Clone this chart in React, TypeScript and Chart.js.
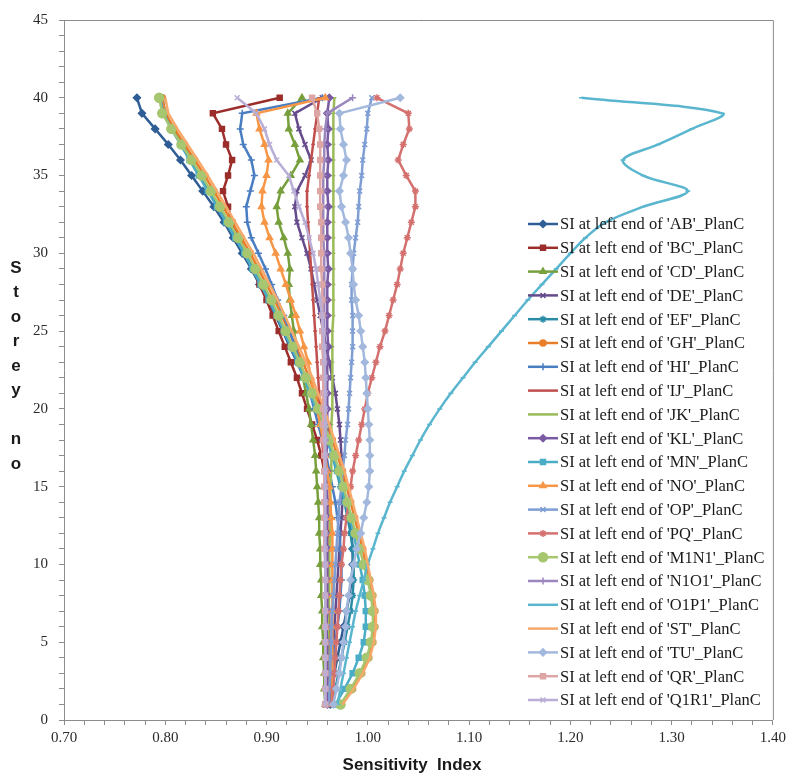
import React, { useEffect, useRef } from 'react';
import { Chart, registerables } from 'chart.js';
import { drawPoint } from 'chart.js/helpers';

Chart.register(...registerables);

// Storey numbers (top to bottom) matching the order of every series array below
const storeys = [40, 39, 38, 37, 36, 35, 34, 33, 32, 31, 30, 29, 28, 27, 26, 25, 24, 23, 22, 21, 20, 19, 18, 17, 16, 15, 14, 13, 12, 11, 10, 9, 8, 7, 6, 5, 4, 3, 2, 1];

const seriesNames = ['AB', 'BC', 'CD', 'DE', 'EF', 'GH', 'HI', 'IJ', 'JK', 'KL', 'MN', 'NO', 'OP', 'PQ', 'M1N1', 'N1O1', 'O1P1', 'ST', 'TU', 'QR', 'Q1R1'];

const siAB = [0.772, 0.777, 0.790, 0.803, 0.815, 0.826, 0.837, 0.848, 0.858, 0.867, 0.876, 0.885, 0.893, 0.901, 0.909, 0.916, 0.923, 0.930, 0.937, 0.943, 0.949, 0.955, 0.961, 0.966, 0.971, 0.975, 0.979, 0.982, 0.984, 0.985, 0.985, 0.984, 0.982, 0.979, 0.976, 0.973, 0.970, 0.967, 0.965, 0.963];
const siBC = [0.913, 0.847, 0.856, 0.860, 0.866, 0.862, 0.857, 0.862, 0.866, 0.873, 0.880, 0.887, 0.893, 0.900, 0.906, 0.912, 0.918, 0.924, 0.930, 0.935, 0.940, 0.945, 0.950, 0.954, 0.957, 0.959, 0.960, 0.960, 0.960, 0.960, 0.960, 0.960, 0.959, 0.959, 0.959, 0.959, 0.959, 0.959, 0.958, 0.958];
const siCD = [0.935, 0.921, 0.922, 0.928, 0.933, 0.924, 0.914, 0.910, 0.912, 0.917, 0.921, 0.923, 0.922, 0.923, 0.925, 0.927, 0.930, 0.933, 0.936, 0.939, 0.942, 0.944, 0.946, 0.948, 0.949, 0.950, 0.951, 0.952, 0.952, 0.953, 0.953, 0.954, 0.954, 0.955, 0.955, 0.956, 0.956, 0.957, 0.957, 0.958];
const siDE = [0.955, 0.928, 0.932, 0.938, 0.944, 0.938, 0.930, 0.928, 0.930, 0.935, 0.940, 0.944, 0.947, 0.950, 0.953, 0.956, 0.959, 0.962, 0.965, 0.968, 0.970, 0.972, 0.973, 0.974, 0.975, 0.975, 0.975, 0.974, 0.973, 0.972, 0.971, 0.970, 0.969, 0.968, 0.967, 0.966, 0.965, 0.964, 0.963, 0.962];
const siEF = [0.797, 0.800, 0.808, 0.817, 0.826, 0.835, 0.844, 0.853, 0.862, 0.871, 0.880, 0.888, 0.896, 0.904, 0.911, 0.918, 0.925, 0.932, 0.938, 0.944, 0.950, 0.955, 0.960, 0.965, 0.969, 0.973, 0.977, 0.980, 0.983, 0.985, 0.986, 0.986, 0.985, 0.983, 0.980, 0.977, 0.974, 0.971, 0.968, 0.965];
const siGH = [0.797, 0.800, 0.809, 0.819, 0.829, 0.839, 0.848, 0.857, 0.866, 0.875, 0.884, 0.892, 0.900, 0.908, 0.915, 0.922, 0.929, 0.936, 0.942, 0.948, 0.954, 0.960, 0.965, 0.970, 0.975, 0.979, 0.983, 0.987, 0.991, 0.995, 0.998, 1.002, 1.005, 1.007, 1.007, 1.005, 1.001, 0.994, 0.985, 0.974];
const siHI = [0.955, 0.876, 0.874, 0.877, 0.885, 0.888, 0.884, 0.880, 0.881, 0.885, 0.892, 0.899, 0.905, 0.911, 0.917, 0.923, 0.928, 0.933, 0.938, 0.943, 0.947, 0.951, 0.955, 0.959, 0.962, 0.965, 0.968, 0.970, 0.972, 0.973, 0.974, 0.974, 0.973, 0.972, 0.970, 0.968, 0.966, 0.964, 0.962, 0.961];
const siIJ = [0.952, 0.950, 0.948, 0.946, 0.944, 0.942, 0.940, 0.940, 0.941, 0.942, 0.943, 0.944, 0.945, 0.946, 0.947, 0.948, 0.949, 0.950, 0.951, 0.952, 0.953, 0.954, 0.955, 0.956, 0.957, 0.958, 0.959, 0.959, 0.960, 0.960, 0.961, 0.961, 0.961, 0.962, 0.962, 0.962, 0.962, 0.962, 0.962, 0.962];
const siJK = [0.967, 0.966, 0.966, 0.966, 0.966, 0.966, 0.966, 0.966, 0.966, 0.966, 0.966, 0.966, 0.966, 0.966, 0.966, 0.965, 0.965, 0.965, 0.965, 0.965, 0.965, 0.964, 0.964, 0.964, 0.964, 0.963, 0.963, 0.963, 0.963, 0.962, 0.962, 0.962, 0.962, 0.961, 0.961, 0.961, 0.961, 0.960, 0.960, 0.960];
const siKL = [0.962, 0.960, 0.961, 0.960, 0.961, 0.960, 0.960, 0.961, 0.960, 0.960, 0.960, 0.961, 0.960, 0.960, 0.960, 0.960, 0.961, 0.960, 0.960, 0.960, 0.960, 0.960, 0.960, 0.959, 0.960, 0.960, 0.960, 0.960, 0.959, 0.960, 0.960, 0.960, 0.960, 0.960, 0.959, 0.960, 0.960, 0.960, 0.960, 0.960];
const siMN = [0.795, 0.798, 0.806, 0.815, 0.824, 0.833, 0.842, 0.851, 0.860, 0.869, 0.878, 0.886, 0.894, 0.902, 0.910, 0.917, 0.924, 0.931, 0.937, 0.943, 0.949, 0.955, 0.960, 0.965, 0.970, 0.974, 0.978, 0.982, 0.986, 0.989, 0.992, 0.995, 0.997, 0.998, 0.998, 0.996, 0.991, 0.985, 0.977, 0.968];
const siNO = [0.958, 0.890, 0.893, 0.898, 0.902, 0.900, 0.896, 0.895, 0.898, 0.903, 0.909, 0.914, 0.919, 0.924, 0.929, 0.933, 0.937, 0.941, 0.944, 0.947, 0.950, 0.953, 0.956, 0.958, 0.960, 0.962, 0.963, 0.964, 0.965, 0.965, 0.965, 0.965, 0.965, 0.965, 0.965, 0.965, 0.965, 0.965, 0.965, 0.965];
const siOP = [1.004, 1.000, 0.999, 0.997, 0.995, 0.994, 0.992, 0.991, 0.990, 0.988, 0.986, 0.985, 0.984, 0.984, 0.985, 0.985, 0.985, 0.984, 0.983, 0.982, 0.981, 0.980, 0.978, 0.977, 0.975, 0.974, 0.972, 0.971, 0.970, 0.969, 0.968, 0.967, 0.966, 0.965, 0.964, 0.964, 0.963, 0.963, 0.962, 0.962];
const siPQ = [1.009, 1.040, 1.041, 1.035, 1.030, 1.038, 1.047, 1.047, 1.043, 1.039, 1.035, 1.032, 1.029, 1.025, 1.021, 1.017, 1.012, 1.008, 1.004, 1.000, 0.997, 0.994, 0.991, 0.988, 0.985, 0.983, 0.981, 0.979, 0.977, 0.976, 0.974, 0.973, 0.972, 0.971, 0.970, 0.969, 0.968, 0.967, 0.966, 0.965];
const siM1N1 = [0.794, 0.797, 0.806, 0.816, 0.826, 0.836, 0.845, 0.854, 0.863, 0.872, 0.881, 0.889, 0.897, 0.905, 0.912, 0.919, 0.926, 0.933, 0.939, 0.945, 0.951, 0.957, 0.962, 0.967, 0.972, 0.976, 0.980, 0.984, 0.988, 0.992, 0.996, 1.000, 1.003, 1.005, 1.005, 1.003, 0.999, 0.992, 0.983, 0.973];
const siN1O1 = [0.985, 0.960, 0.958, 0.957, 0.957, 0.956, 0.956, 0.956, 0.956, 0.956, 0.957, 0.957, 0.957, 0.957, 0.957, 0.957, 0.957, 0.957, 0.958, 0.958, 0.958, 0.958, 0.958, 0.958, 0.958, 0.958, 0.958, 0.958, 0.958, 0.958, 0.958, 0.958, 0.958, 0.958, 0.958, 0.958, 0.958, 0.958, 0.958, 0.958];
const siO1P1 = [1.211, 1.350, 1.320, 1.287, 1.252, 1.272, 1.316, 1.272, 1.235, 1.215, 1.200, 1.186, 1.172, 1.158, 1.145, 1.132, 1.119, 1.106, 1.094, 1.082, 1.071, 1.061, 1.052, 1.044, 1.036, 1.029, 1.022, 1.016, 1.010, 1.005, 1.000, 0.996, 0.992, 0.988, 0.985, 0.982, 0.979, 0.976, 0.973, 0.970];
const siST = [0.800, 0.803, 0.812, 0.822, 0.832, 0.842, 0.851, 0.860, 0.869, 0.878, 0.887, 0.895, 0.903, 0.911, 0.918, 0.925, 0.932, 0.939, 0.945, 0.951, 0.957, 0.962, 0.967, 0.972, 0.977, 0.981, 0.985, 0.989, 0.993, 0.997, 1.000, 1.003, 1.006, 1.008, 1.008, 1.006, 1.002, 0.995, 0.986, 0.975];
const siTU = [1.032, 0.972, 0.973, 0.976, 0.979, 0.976, 0.972, 0.974, 0.978, 0.981, 0.983, 0.985, 0.986, 0.988, 0.991, 0.993, 0.995, 0.997, 0.998, 0.999, 1.000, 1.001, 1.002, 1.002, 1.002, 1.001, 0.999, 0.996, 0.993, 0.989, 0.986, 0.983, 0.981, 0.979, 0.978, 0.976, 0.974, 0.972, 0.969, 0.966];
const siQR = [0.945, 0.950, 0.952, 0.953, 0.953, 0.953, 0.953, 0.953, 0.954, 0.954, 0.954, 0.954, 0.955, 0.955, 0.955, 0.955, 0.955, 0.956, 0.956, 0.956, 0.956, 0.956, 0.956, 0.957, 0.957, 0.957, 0.957, 0.957, 0.957, 0.957, 0.958, 0.958, 0.958, 0.958, 0.958, 0.958, 0.958, 0.958, 0.958, 0.958];
const siQ1R1 = [0.871, 0.890, 0.898, 0.903, 0.910, 0.922, 0.927, 0.932, 0.938, 0.942, 0.946, 0.949, 0.951, 0.953, 0.955, 0.956, 0.957, 0.957, 0.958, 0.958, 0.958, 0.958, 0.958, 0.958, 0.958, 0.958, 0.958, 0.958, 0.958, 0.958, 0.958, 0.958, 0.958, 0.958, 0.958, 0.958, 0.958, 0.958, 0.958, 0.958];

const seriesValues = [siAB, siBC, siCD, siDE, siEF, siGH, siHI, siIJ, siJK, siKL, siMN, siNO, siOP, siPQ, siM1N1, siN1O1, siO1P1, siST, siTU, siQR, siQ1R1];

const seriesColors = ['#2F5D95', '#9B2D2A', '#77A03D', '#654B8C', '#2A8BA6', '#E87E2A', '#4A7EC2', '#C0504D', '#9BBB59', '#7A5BA3', '#4BACC6', '#F79646', '#7F9ED4', '#D4716F', '#A6C66F', '#9C86BE', '#5AB6CF', '#F6A96B', '#A3B8DD', '#DDA6A5', '#B9AED6'];
const seriesMarkers = ['rectRot', 'rect', 'triangle', 'crossRot', 'star', 'circle', 'cross', 'line', 'line', 'rectRot', 'rect', 'triangle', 'crossRot', 'star', 'circle', 'cross', 'line', 'line', 'rectRot', 'rect', 'crossRot'];
const seriesMarkerSizes = [3.5, 3.5, 3.5, 3.5, 3.5, 3, 3.5, 2, 2, 3.5, 3.5, 3.5, 3.5, 3.5, 4.5, 3.5, 2.5, 0, 3.5, 3.5, 3.5];

const xTicksMajor = ['0.70', '0.80', '0.90', '1.00', '1.10', '1.20', '1.30', '1.40'];
const yTicksMajor = ['0', '5', '10', '15', '20', '25', '30', '35', '40', '45'];
const xTitle = 'Sensitivity  Index';
const yTitle = 'Storey no';

const overlayPlugin = {
  id: 'overlay',
  afterDraw(chart: any) {
    const { ctx, chartArea } = chart;
    ctx.save();
    // top and right frame
    ctx.strokeStyle = '#8c8c8c';
    ctx.lineWidth = 1;
    ctx.beginPath();
    ctx.moveTo(chartArea.left, chartArea.top + 0.5);
    ctx.lineTo(chartArea.right + 0.5, chartArea.top + 0.5);
    ctx.lineTo(chartArea.right + 0.5, chartArea.bottom);
    ctx.stroke();

    // legend
    const lx0 = 528;
    const lx1 = 558;
    const ly0 = 224;
    const step = 23.8;
    ctx.font = '16.5px "Liberation Serif", "Times New Roman", serif';
    ctx.textBaseline = 'middle';
    ctx.textAlign = 'left';
    seriesNames.forEach((name, i) => {
      const y = ly0 + i * step;
      ctx.strokeStyle = seriesColors[i];
      ctx.lineWidth = 2.5;
      ctx.beginPath();
      ctx.moveTo(lx0, y);
      ctx.lineTo(lx1, y);
      ctx.stroke();
      if (seriesMarkerSizes[i] > 0 && seriesMarkers[i] !== 'line') {
        ctx.fillStyle = seriesColors[i];
        ctx.strokeStyle = seriesColors[i];
        ctx.lineWidth = 1.5;
        drawPoint(ctx, { pointStyle: seriesMarkers[i], radius: seriesMarkerSizes[i], rotation: 0, borderWidth: 1.5 }, (lx0 + lx1) / 2, y);
      }
      ctx.fillStyle = '#1a1a1a';
      ctx.fillText(`SI at left end of '${name}'_PlanC`, lx1 + 2, y + 1);
    });

    // axis titles
    ctx.fillStyle = '#1a1a1a';
    ctx.font = 'bold 17px "Liberation Sans", Arial, sans-serif';
    ctx.textAlign = 'center';
    ctx.textBaseline = 'middle';
    ctx.fillText(xTitle, 412, 765);
    const chars = yTitle.split('');
    chars.forEach((c, i) => {
      if (c !== ' ') ctx.fillText(c, 16, 268 + i * 24.5);
    });
    ctx.restore();
  },
};

export default function App() {
  const ref = useRef<HTMLCanvasElement | null>(null);
  useEffect(() => {
    document.body.style.margin = '0';
    const canvas = ref.current;
    if (!canvas) return;
    const datasets = seriesNames.map((name, i) => ({
      label: `SI at left end of '${name}'_PlanC`,
      data: seriesValues[i].map((v, k) => ({ x: v, y: storeys[k] })),
      showLine: true,
      borderColor: seriesColors[i],
      backgroundColor: seriesColors[i],
      borderWidth: 2.5,
      pointStyle: seriesMarkers[i],
      pointRadius: seriesMarkerSizes[i],
      pointBorderWidth: 1.5,
      pointBorderColor: seriesColors[i],
      pointBackgroundColor: seriesColors[i],
      tension: name === 'O1P1' ? 0.35 : 0,
      order: seriesNames.length - i,
    }));
    const chart = new Chart(canvas, {
      type: 'scatter',
      data: { datasets },
      options: {
        responsive: false,
        animation: false,
        layout: { padding: { left: 0, top: 14, right: 17, bottom: 0 } },
        plugins: { legend: { display: false }, tooltip: { enabled: false } },
        scales: {
          x: {
            type: 'linear',
            min: 0.7,
            max: 1.4,
            afterFit: (s: any) => { s.height = 58; },
            ticks: {
              stepSize: 0.02,
              autoSkip: false,
              maxRotation: 0,
              padding: 4,
              color: '#2a2a2a',
              font: { family: '"Liberation Serif", "Times New Roman", serif', size: 15 },
              callback: (v: any) => {
                const n = Math.round(Number(v) * 100);
                return n % 10 === 0 ? xTicksMajor[Math.round((n - 70) / 10)] : '';
              },
            },
            grid: { drawOnChartArea: false, drawTicks: true, tickLength: 5, color: '#8c8c8c' },
            border: { display: true, color: '#8c8c8c', width: 1 },
          },
          y: {
            type: 'linear',
            min: 0,
            max: 45,
            afterFit: (s: any) => { s.width = 64; },
            ticks: {
              stepSize: 1,
              autoSkip: false,
              padding: 11,
              color: '#2a2a2a',
              font: { family: '"Liberation Serif", "Times New Roman", serif', size: 15 },
              callback: (v: any) => {
                const n = Math.round(Number(v));
                return n % 5 === 0 ? yTicksMajor[n / 5] : '';
              },
            },
            grid: { drawOnChartArea: false, drawTicks: true, tickLength: 5, color: '#8c8c8c' },
            border: { display: true, color: '#8c8c8c', width: 1 },
          },
        },
      },
      plugins: [overlayPlugin],
    } as any);
    return () => chart.destroy();
  }, []);
  return (
    <div style={{ position: 'absolute', left: 0, top: 0, width: 790, height: 778, background: '#fff' }}>
      <canvas ref={ref} width={790} height={778} style={{ display: 'block' }} />
    </div>
  );
}
